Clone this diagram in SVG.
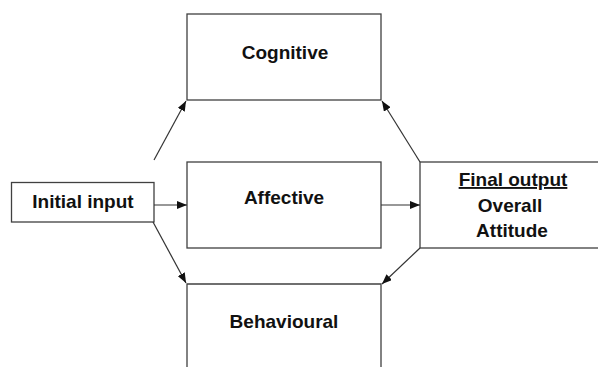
<svg xmlns="http://www.w3.org/2000/svg" width="598" height="367" viewBox="0 0 598 367">
<style>
.box{fill:#fff;stroke:#404040;stroke-width:1.3}
.lbl{font-family:"Liberation Sans",Arial,sans-serif;font-size:19px;font-weight:bold;fill:#111;text-anchor:middle}
.con{stroke:#333;stroke-width:1.2;fill:none;marker-end:url(#ah)}
</style>
<defs>
<marker id="ah" viewBox="0 0 10 8" refX="10" refY="4" markerWidth="10" markerHeight="8" markerUnits="userSpaceOnUse" orient="auto">
<path d="M0,0 L10,4 L0,8 Z" fill="#111"/>
</marker>
</defs>
<rect width="598" height="367" fill="#fff"/>
<g id="cognitive">
<rect class="box" x="187" y="14" width="194" height="86"/>
<text class="lbl" x="285" y="59">Cognitive</text>
</g>
<g id="affective">
<rect class="box" x="187" y="162" width="194" height="86"/>
<text class="lbl" x="284" y="204">Affective</text>
</g>
<g id="behavioural">
<path class="box" d="M187,370 L187,284 L381,284 L381,370"/>
<text class="lbl" x="284" y="328">Behavioural</text>
</g>
<g id="initial-input">
<rect class="box" x="11.5" y="182.5" width="142.5" height="39.5"/>
<text class="lbl" x="83" y="208">Initial input</text>
</g>
<g id="final-output">
<rect class="box" x="420" y="162" width="190" height="86"/>
<text class="lbl" x="513" y="186" text-decoration="underline">Final output</text>
<text class="lbl" x="510" y="212">Overall</text>
<text class="lbl" x="512" y="237">Attitude</text>
</g>
<g id="connectors">
<line class="con" x1="154" y1="160" x2="186" y2="101"/>
<line class="con" x1="154" y1="205" x2="187" y2="205"/>
<line class="con" x1="153" y1="222" x2="186" y2="283"/>
<line class="con" x1="381" y1="205" x2="420" y2="205"/>
<line class="con" x1="420" y1="162" x2="382" y2="101"/>
<line class="con" x1="420" y1="248" x2="382" y2="284"/>
</g>
</svg>
